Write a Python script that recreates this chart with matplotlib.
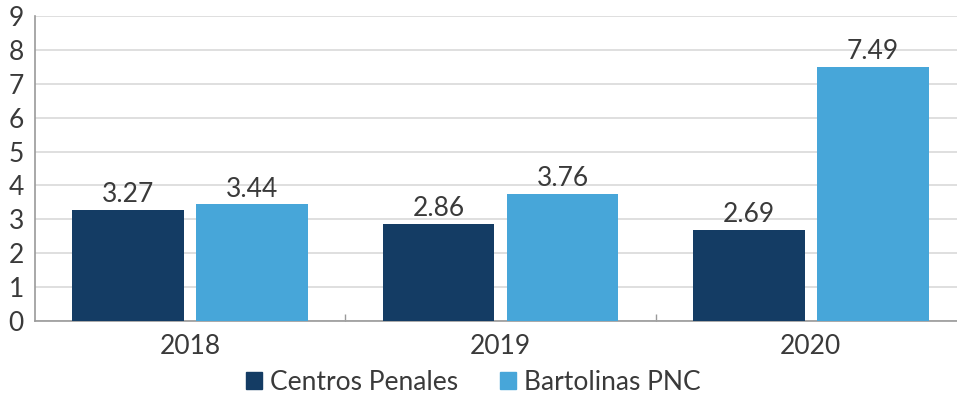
import numpy as np
import matplotlib.pyplot as plt
from matplotlib.patches import Patch

anios = ["2018", "2019", "2020"]
centros_penales = [3.27, 2.86, 2.69]
bartolinas_pnc = [3.44, 3.76, 7.49]

color_oscuro = "#143c64"
color_claro = "#47a6d9"
gris_texto = "#3a3a3a"

plt.rcParams["font.family"] = ["Lato", "DejaVu Sans"]

fig = plt.figure(figsize=(9.57, 3.96), dpi=100)
ax = fig.add_axes([35 / 957, 75 / 396, 931 / 957, 305 / 396])

x = np.arange(len(anios))
ancho = 0.36
b1 = ax.bar(x - 0.2, centros_penales, ancho, color=color_oscuro, zorder=3)
b2 = ax.bar(x + 0.2, bartolinas_pnc, ancho, color=color_claro, zorder=3)

# etiquetas de valor sobre cada barra
for barras in (b1, b2):
    for b in barras:
        ax.text(b.get_x() + b.get_width() / 2, b.get_height() + 0.08,
                f"{b.get_height():.2f}", ha="center", va="bottom",
                fontsize=19, color=gris_texto)

ax.set_xlim(-0.5, 2.5)
ax.set_ylim(0, 9)
ax.set_yticks(range(10))
ax.set_xticks(x)
ax.set_xticklabels(anios)
ax.set_xticks([0.5, 1.5], minor=True)
ax.tick_params(axis="y", length=0, labelsize=19, labelcolor=gris_texto, pad=8)
ax.tick_params(axis="x", which="major", length=0, labelsize=19,
               labelcolor=gris_texto, pad=9)
ax.tick_params(axis="x", which="minor", length=5, direction="in",
               color="#9a9a9a", width=1)

ax.grid(axis="y", color="#d9d9d9", linewidth=1.2, zorder=0)
for lado in ("top", "right"):
    ax.spines[lado].set_visible(False)
ax.spines["left"].set_color("#9a9a9a")
ax.spines["bottom"].set_color("#9a9a9a")
ax.spines["left"].set_linewidth(1.2)
ax.spines["bottom"].set_linewidth(1.2)

manejadores = [Patch(color=color_oscuro, label="Centros Penales"),
               Patch(color=color_claro, label="Bartolinas PNC")]
fig.legend(handles=manejadores, loc="center", bbox_to_anchor=(473 / 957, 14 / 396),
           ncol=2, frameon=False, fontsize=19, handlelength=0.6, handleheight=0.6,
           handletextpad=0.3, columnspacing=1.6, labelcolor=gris_texto)

fig.savefig("out.png", dpi=100)
